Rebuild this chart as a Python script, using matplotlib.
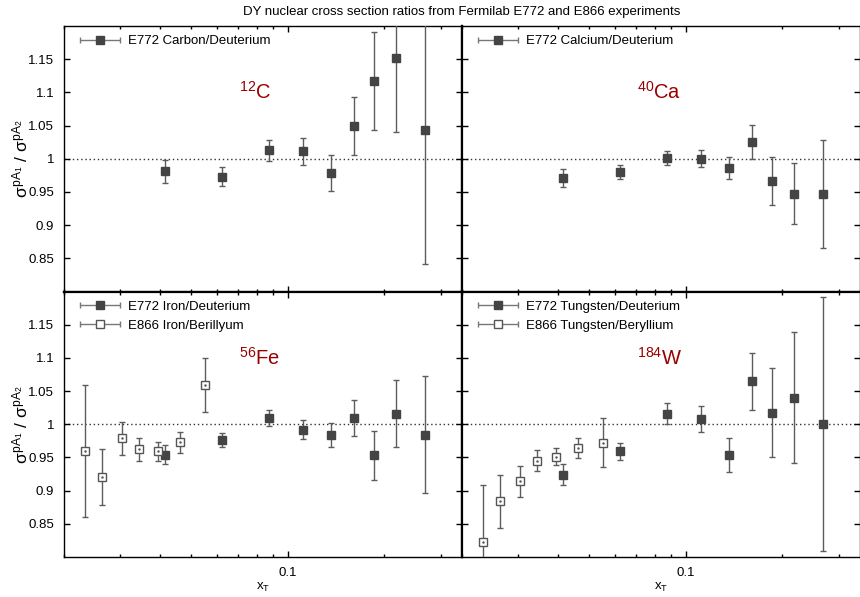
import numpy as np
import matplotlib
matplotlib.use('Agg')
import matplotlib.pyplot as plt
from matplotlib.ticker import LogLocator, NullFormatter, FixedLocator
from matplotlib.container import ErrorbarContainer
from matplotlib.legend_handler import HandlerErrorbar

plt.rcParams['font.family'] = ['Liberation Sans', 'DejaVu Sans']
plt.rcParams['mathtext.fontset'] = 'custom'
plt.rcParams['mathtext.rm'] = 'Liberation Sans'
plt.rcParams['mathtext.it'] = 'Liberation Sans'
plt.rcParams['mathtext.bf'] = 'Liberation Sans:bold'
plt.rcParams['font.size'] = 9.5

# ---------------- data ----------------
title = "DY nuclear cross section ratios from Fermilab E772 and E866 experiments"

x_e772 = [0.0413, 0.0621, 0.0875, 0.1116, 0.1362, 0.161, 0.186, 0.217, 0.269]
x_e866 = [0.0233, 0.0262, 0.0303, 0.0342, 0.0392, 0.0462, 0.0553]

c_e772 = [0.981, 0.973, 1.013, 1.011, 0.978, 1.049, 1.117, 1.152, 1.043]
c_e772_err = [0.017, 0.014, 0.016, 0.020, 0.027, 0.044, 0.074, 0.111, 0.202]

ca_e772 = [0.971, 0.980, 1.001, 1.000, 0.986, 1.025, 0.966, 0.947, 0.947]
ca_e772_err = [0.014, 0.010, 0.011, 0.013, 0.017, 0.026, 0.036, 0.046, 0.082]

fe_e772 = [0.954, 0.976, 1.010, 0.992, 0.984, 1.010, 0.953, 1.016, 0.984]
fe_e772_err = [0.014, 0.011, 0.012, 0.014, 0.018, 0.027, 0.037, 0.050, 0.088]
fe_e866 = [0.960, 0.920, 0.979, 0.962, 0.959, 0.973, 1.059]
fe_e866_err = [0.099, 0.042, 0.025, 0.017, 0.014, 0.016, 0.041]

w_e772 = [0.924, 0.959, 1.016, 1.008, 0.954, 1.065, 1.017, 1.040, 1.000]
w_e772_err = [0.016, 0.013, 0.016, 0.020, 0.026, 0.043, 0.067, 0.099, 0.191]
w_e866 = [0.822, 0.884, 0.914, 0.945, 0.951, 0.964, 0.972]
w_e866_err = [0.086, 0.040, 0.023, 0.016, 0.013, 0.015, 0.037]

y_ticks = [0.85, 0.9, 0.95, 1.0, 1.05, 1.1, 1.15]
y_ticklabels = ['0.85', '0.9', '0.95', '1', '1.05', '1.1', '1.15']
x_ticks = [0.1]
x_ticklabels = ['0.1']

panels = [
    dict(label=r'$^{\mathrm{12}}$C', series=[('E772 Carbon/Deuterium', x_e772, c_e772, c_e772_err, True)]),
    dict(label=r'$^{\mathrm{40}}$Ca', series=[('E772 Calcium/Deuterium', x_e772, ca_e772, ca_e772_err, True)]),
    dict(label=r'$^{\mathrm{56}}$Fe', series=[('E772 Iron/Deuterium', x_e772, fe_e772, fe_e772_err, True),
                                          ('E866 Iron/Berillyum', x_e866, fe_e866, fe_e866_err, False)]),
    dict(label=r'$^{\mathrm{184}}$W', series=[('E772 Tungsten/Deuterium', x_e772, w_e772, w_e772_err, True),
                                           ('E866 Tungsten/Beryllium', x_e866, w_e866, w_e866_err, False)]),
]

# ---------------- figure ----------------
W, H = 860, 597
fig = plt.figure(figsize=(W / 100, H / 100), dpi=100)

def ax_at(l, t, r, b):
    return fig.add_axes([l / W, 1 - b / H, (r - l) / W, (b - t) / H])

XL, XM, XR = 64, 462, 860
YT, YM, YB = 26, 291.5, 557
boxes = [(XL, YT, XM, YM), (XM, YT, XR, YM), (XL, YM, XM, YB), (XM, YM, XR, YB)]

fill_col = '#444444'
bar_col = '#5c5c5c'
red = '#990000'

for i, (box, p) in enumerate(zip(boxes, panels)):
    ax = ax_at(*box)
    ax.set_xscale('log')
    handles, labels = [], []
    for name, xs, ys, es, filled in p['series']:
        if filled:
            kw = dict(fmt='s', ms=6, mfc=fill_col, mec=fill_col, mew=1)
        else:
            kw = dict(fmt='s', ms=6, mfc='white', mec='#555555', mew=1)
        ax.errorbar(xs, ys, yerr=es, ecolor=bar_col, elinewidth=1, capsize=2.5,
                    capthick=1, zorder=3, **kw)
        if not filled:
            ax.plot(xs, ys, '.', ms=1.5, color='#555555', zorder=4)
        # legend proxy (horizontal error bar sample, gnuplot style)
        h = ax.errorbar([np.nan], [np.nan], xerr=[0.0], ecolor='#777777', elinewidth=1,
                        capsize=2.5, capthick=1, **kw)
        handles.append(h)
        labels.append(name)
    ax.axhline(1.0, ls=(0, (1, 2)), lw=1, color='#333333', zorder=1)
    ax.set_xlim(0.02, 0.35)
    ax.set_ylim(0.8, 1.2)
    ax.text(0.0703, 1.09, p['label'], color=red, fontsize=14.5, ha='left', va='baseline')

    ax.set_yticks(y_ticks)
    ax.xaxis.set_major_locator(FixedLocator(x_ticks))
    ax.xaxis.set_minor_locator(LogLocator(base=10, subs=np.arange(2, 10)))
    ax.xaxis.set_minor_formatter(NullFormatter())
    ax.tick_params(which='both', direction='in', top=True, right=True, width=1, color='black')
    ax.tick_params(which='major', length=4.3, pad=7)
    ax.tick_params(which='minor', length=2.5)
    if i % 2 == 0:
        ax.set_yticklabels(y_ticklabels)
        ax.set_ylabel(r'$\sigma^{\mathrm{pA}_{\mathrm{1}}}$ / $\sigma^{\mathrm{pA}_{\mathrm{2}}}$', fontsize=12.5)
        ax.yaxis.set_label_coords((30 - 64) / 398, 0.5)
    else:
        ax.set_yticklabels([])
    if i >= 2:
        ax.set_xticklabels(x_ticklabels)
        ax.set_xlabel(r'x$_{\mathrm{T}}$', fontsize=9.5)
        ax.xaxis.set_label_coords(0.5, (557 - 581) / 265.5)
    else:
        ax.set_xticklabels([])

    for s in ax.spines.values():
        s.set_linewidth(1.0)
    if i % 2 == 0:
        ax.spines['right'].set_linewidth(1.6)
    else:
        ax.spines['left'].set_linewidth(1.6)
    if i < 2:
        ax.spines['bottom'].set_linewidth(1.6)
    else:
        ax.spines['top'].set_linewidth(1.6)

    ax.legend(handles, labels, loc='upper left', bbox_to_anchor=(16 / 398, 1 - 9 / 265.5),
              frameon=False, handlelength=3.0, handletextpad=0.65, borderpad=0,
              borderaxespad=0, labelspacing=0.5,
              handler_map={ErrorbarContainer: HandlerErrorbar(xerr_size=1.5)})

fig.text(462 / W, 1 - 12 / H, title, ha='center', va='center', fontsize=9.5)

fig.savefig('out.png', dpi=100)
